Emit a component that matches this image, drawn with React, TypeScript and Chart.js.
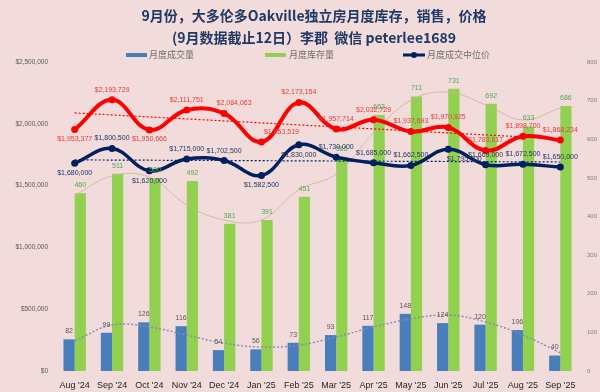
import React, { useEffect, useRef } from "react";
import { Chart, registerables } from "chart.js";

Chart.register(...registerables);

// ---------- data ----------
const months = ["Aug '24", "Sep '24", "Oct '24", "Nov '24", "Dec '24", "Jan '25", "Feb '25", "Mar '25", "Apr '25", "May '25", "Jun '25", "Jul '25", "Aug '25", "Sep '25"];
const salesVolume = [82, 99, 126, 116, 54, 56, 73, 93, 117, 148, 124, 120, 106, 40];
const inventory = [460, 511, 500, 492, 381, 391, 451, 555, 663, 711, 731, 692, 633, 686];
const averagePrice = [1953377, 2193729, 1950666, 2111751, 2084063, 1853519, 2173154, 1957714, 2032729, 1937693, 1970925, 1783617, 1898700, 1868234];
const medianPrice = [1680000, 1800500, 1620000, 1715000, 1702500, 1582500, 1830000, 1730000, 1685000, 1662500, 1795000, 1669000, 1672500, 1650000];
// trend lines
const averageTrend = [2088000, null, null, null, null, null, null, null, null, null, null, null, null, 1878000];
const medianTrend = [1708000, null, null, null, null, null, null, null, null, null, null, null, null, 1691000];
const inventoryTrend = [455, 505, 502, 430, 391, 391, 469, 510, 616, 701, 722, 689, 650, 681];
const salesTrend = [78, 119, 114, 93, 72, 62, 67, 88, 114, 135, 145, 127, 93, 47];

const titleLines = ["9月份，大多伦多Oakville独立房月度库存，销售，价格", "(9月数据截止12日）李郡  微信 peterlee1689"];
const legendNames = ["月度成交量", "月度库存量", "月度成交中位价"];

// ---------- label placement (style) ----------
const redLabelPos = ["b", "a", "b", "a", "a", "a", "a", "a", "a", "a", "a", "a", "a", "a"];
const redLabelDx = [0, 0, 0, 0, 10, 20, 0, 0, 0, 0, 0, 0, 0, 0];
const navyLabelPos = ["b", "a", "b", "a", "a", "b", "b", "a", "a", "a", "b", "a", "a", "a"];
const navyLabelDx = [0, 0, 0, 0, 0, 0, 0, 0, 0, 0, 16, 0, 0, 0];

const BG = "#F2DCDB";
const BLUE = "#4A7EBB";
const GREEN = "#92D050";
const RED = "#FF0000";
const NAVY = "#002060";
const FONT = "'Liberation Sans', Arial, sans-serif";
const CJK = "'Noto Sans CJK SC', sans-serif";

const money = (v: number) => "$" + Math.round(v).toLocaleString("en-US");

const decorPlugin = {
  id: "decor",
  beforeDraw(chart: any) {
    const ctx = chart.ctx;
    ctx.save();
    ctx.fillStyle = BG;
    ctx.fillRect(0, 0, chart.width, chart.height);
    ctx.restore();
  },
  afterDatasetsDraw(chart: any) {
    const ctx = chart.ctx;
    ctx.save();
    ctx.font = `7px ${FONT}`;
    ctx.textAlign = "center";
    ctx.textBaseline = "middle";
    // bars
    const mBlue = chart.getDatasetMeta(0);
    mBlue.data.forEach((el: any, i: number) => {
      ctx.fillStyle = "#595959";
      ctx.fillText(String(salesVolume[i]), el.x, el.y - 8);
    });
    const mGreen = chart.getDatasetMeta(1);
    mGreen.data.forEach((el: any, i: number) => {
      ctx.fillStyle = "#4FA84F";
      ctx.fillText(String(inventory[i]), el.x, el.y - 8);
    });
    const mRed = chart.getDatasetMeta(2);
    mRed.data.forEach((el: any, i: number) => {
      ctx.fillStyle = "#E83A3A";
      const dy = redLabelPos[i] === "a" ? -10 : 9;
      ctx.fillText(money(averagePrice[i]), el.x + redLabelDx[i], el.y + dy);
    });
    const mNavy = chart.getDatasetMeta(3);
    mNavy.data.forEach((el: any, i: number) => {
      ctx.fillStyle = "#1F3864";
      const dy = navyLabelPos[i] === "a" ? -10 : 10;
      ctx.fillText(money(medianPrice[i]), el.x + navyLabelDx[i], el.y + dy);
    });
    ctx.restore();
  },
  afterDraw(chart: any) {
    const ctx = chart.ctx;
    ctx.save();
    // title
    ctx.fillStyle = "#1F3864";
    ctx.font = `bold 14px ${CJK}`;
    ctx.textAlign = "center";
    ctx.textBaseline = "middle";
    ctx.fillText(titleLines[0], 314, 16);
    ctx.fillText(titleLines[1], 314, 38);
    // legend
    ctx.font = `9px ${CJK}`;
    ctx.textAlign = "left";
    ctx.fillStyle = BLUE;
    ctx.fillRect(126, 53, 21, 4);
    ctx.fillStyle = GREEN;
    ctx.fillRect(265, 53, 21, 4);
    ctx.strokeStyle = NAVY;
    ctx.lineWidth = 3;
    ctx.beginPath();
    ctx.moveTo(403, 55);
    ctx.lineTo(425, 55);
    ctx.stroke();
    ctx.fillStyle = NAVY;
    ctx.beginPath();
    ctx.arc(414, 55, 3, 0, Math.PI * 2);
    ctx.fill();
    ctx.fillStyle = "#707070";
    ctx.fillText(legendNames[0], 149, 55);
    ctx.fillText(legendNames[1], 289, 55);
    ctx.fillText(legendNames[2], 427, 55);
    ctx.restore();
  },
};

export default function App() {
  const ref = useRef<HTMLCanvasElement | null>(null);

  useEffect(() => {
    if (!ref.current) return;
    const chart = new Chart(ref.current, {
      type: "bar",
      data: {
        labels: months,
        datasets: [
          {
            type: "bar",
            label: legendNames[0],
            data: salesVolume,
            backgroundColor: BLUE,
            yAxisID: "y1",
            categoryPercentage: 0.6,
            barPercentage: 1.0,
            order: 10,
          },
          {
            type: "bar",
            label: legendNames[1],
            data: inventory,
            backgroundColor: GREEN,
            yAxisID: "y1",
            categoryPercentage: 0.6,
            barPercentage: 1.0,
            order: 10,
          },
          {
            type: "line",
            label: "平均价",
            data: averagePrice,
            borderColor: RED,
            backgroundColor: RED,
            borderWidth: 4,
            pointRadius: 3.5,
            pointBorderWidth: 0,
            pointBackgroundColor: RED,
            tension: 0.4,
            yAxisID: "y",
            order: 1,
          },
          {
            type: "line",
            label: legendNames[2],
            data: medianPrice,
            borderColor: NAVY,
            backgroundColor: NAVY,
            borderWidth: 3.5,
            pointRadius: 3.5,
            pointBorderWidth: 0,
            pointBackgroundColor: NAVY,
            tension: 0.4,
            yAxisID: "y",
            order: 1,
          },
          {
            type: "line",
            label: "avgTrend",
            data: averageTrend,
            borderColor: RED,
            borderWidth: 1.2,
            borderDash: [2, 2],
            pointRadius: 0,
            spanGaps: true,
            tension: 0,
            yAxisID: "y",
            order: 5,
          },
          {
            type: "line",
            label: "medTrend",
            data: medianTrend,
            borderColor: NAVY,
            borderWidth: 1.2,
            borderDash: [2, 2],
            pointRadius: 0,
            spanGaps: true,
            tension: 0,
            yAxisID: "y",
            order: 5,
          },
          {
            type: "line",
            label: "invTrend",
            data: inventoryTrend,
            borderColor: "rgba(200,182,155,0.85)",
            borderWidth: 1,
            pointRadius: 0,
            tension: 0.4,
            yAxisID: "y1",
            order: 5,
          },
          {
            type: "line",
            label: "salesTrend",
            data: salesTrend,
            borderColor: "#8A86AE",
            borderWidth: 1.4,
            borderDash: [2, 2],
            pointRadius: 0,
            tension: 0.4,
            yAxisID: "y1",
            order: 5,
          },
        ],
      },
      options: {
        responsive: false,
        animation: false,
        devicePixelRatio: 1,
        layout: { padding: { top: 62, bottom: 0, left: 0, right: 0 } },
        plugins: {
          legend: { display: false },
          title: { display: false },
          tooltip: { enabled: false },
        },
        scales: {
          x: {
            grid: { display: false, drawTicks: false },
            border: { display: false },
            ticks: {
              font: { family: FONT, size: 9 },
              color: "#262626",
              padding: 9,
              maxRotation: 0,
              autoSkip: false,
            },
            afterFit: (s: any) => {
              s.height = 21;
            },
          },
          y: {
            position: "left",
            min: 0,
            max: 2500000,
            grid: { display: false, drawTicks: false },
            border: { display: false },
            ticks: {
              stepSize: 500000,
              callback: (v: any) => money(Number(v)),
              font: { family: FONT, size: 6.5 },
              color: "#595959",
              padding: 8,
            },
            afterFit: (s: any) => {
              s.width = 56;
            },
          },
          y1: {
            position: "right",
            min: 0,
            max: 800,
            grid: { display: false, drawTicks: false },
            border: { display: false },
            ticks: {
              stepSize: 100,
              font: { family: FONT, size: 6 },
              color: "#7F7F7F",
              padding: 8,
            },
            afterFit: (s: any) => {
              s.width = 21;
            },
          },
        },
      },
      plugins: [decorPlugin],
    } as any);
    return () => chart.destroy();
  }, []);

  return (
    <div style={{ position: "absolute", left: 0, top: 0, width: 600, height: 392 }}>
      <canvas ref={ref} width={600} height={392} style={{ display: "block", width: 600, height: 392 }} />
    </div>
  );
}
